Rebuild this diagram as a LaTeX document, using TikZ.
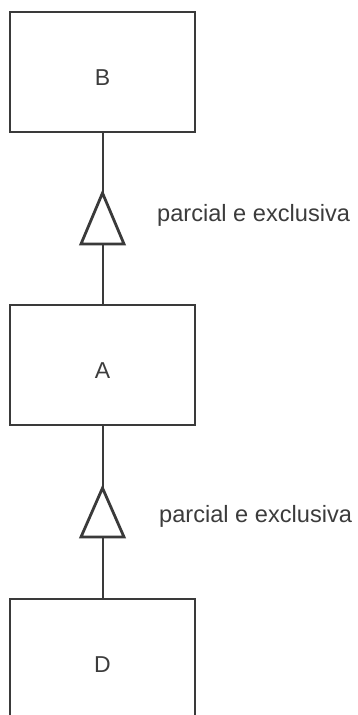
\documentclass[tikz,border=0pt]{standalone}
\usepackage{fontspec}
\setmainfont{Liberation Sans}
\usetikzlibrary{calc}
\definecolor{linha}{HTML}{3A3A3A}
\definecolor{texto}{HTML}{3C3C3C}
\tikzset{
	caixa/.style={draw=linha,line width=2pt,minimum width=185pt,minimum height=120pt,
		inner sep=0pt,text height=26pt,text depth=0pt,text=texto,font=\fontsize{23}{27}\selectfont},
	seta/.style={draw=linha,line width=2.8pt,line join=miter,fill=white},
	rotulo/.style={anchor=base west,text=texto,inner sep=0pt,font=\fontsize{23.6}{28}\selectfont}
}
\begin{document}
\begin{tikzpicture}[x=1pt,y=-1pt]
				\clip (0,0) rectangle (357,715);
				\node[caixa] (B) at (102.5,72) {B};
				\node[caixa] (A) at (102.5,365) {A};
				\node[caixa] (D) at (102.5,659) {D};
				\coordinate (t1) at (102.5,193);
				\coordinate (b1) at (102.5,244);
				\coordinate (t2) at (102.5,488);
				\coordinate (b2) at (102.5,537);
				\draw[linha,line width=2pt] (B.south)--(t1) (b1)--(A.north);
				\draw[linha,line width=2pt] (A.south)--(t2) (b2)--(D.north);
				\draw[seta] (t1)--($(b1)+(-21.5,0)$)--($(b1)+(21.5,0)$)--cycle;
				\draw[seta] (t2)--($(b2)+(-21.5,0)$)--($(b2)+(21.5,0)$)--cycle;
				\node[rotulo] (r1) at (157,221) {parcial e exclusiva};
				\node[rotulo] (r2) at (159,522) {parcial e exclusiva};
\end{tikzpicture}
\end{document}
